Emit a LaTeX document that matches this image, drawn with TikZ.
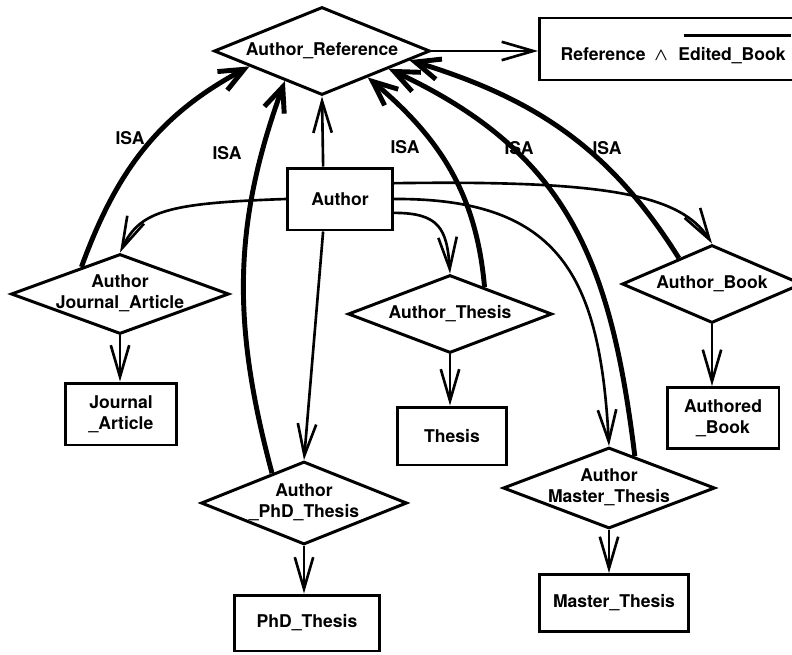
\documentclass[tikz,border=0pt]{standalone}
\usepackage{fontspec}
\setmainfont{TeX Gyre Heros}
\usetikzlibrary{shapes.geometric,arrows.meta}
% text that may run over the border of a diamond
\newcommand{\ztext}[1]{\makebox[0pt]{\begin{tabular}{@{}c@{}}#1\end{tabular}}}
% negated name, bar over it
\newcommand{\negtext}[1]{\vbox{\hrule height 1.6pt\kern 6pt\hbox{\kern-3pt\hbox{#1}\kern3pt}}}

\begin{document}
\begin{tikzpicture}[x=0.02cm, y=0.02cm, font=\bfseries,
    rel/.style={diamond, draw, line width=1.7pt, inner sep=0pt},
    ent/.style={rectangle, draw, line width=1.7pt, inner sep=0pt, align=center},
    link/.style={line width=1.5pt, -{Straight Barb[length=18pt,width=10.5pt]}},
    isa/.style={line width=2.8pt, -{Straight Barb[length=14pt,width=12pt]}}]
  \useasboundingbox (0,0) rectangle (792,654);

  % relationships
  \node[rel, minimum width=4.32cm, minimum height=1.76cm] (ar) at (322,603) {\ztext{Author\_Reference}};
  \node[rel, minimum width=4.36cm, minimum height=1.6cm] (ja) at (120,360) {\ztext{Author\\Journal\_Article}};
  \node[rel, minimum width=4.12cm, minimum height=1.66cm] (pd) at (304,151) {\ztext{Author\\\_PhD\_Thesis}};
  \node[rel, minimum width=4.08cm, minimum height=1.56cm] (td) at (450,340) {\ztext{Author\_Thesis}};
  \node[rel, minimum width=4.24cm, minimum height=1.62cm] (md) at (609,166) {\ztext{Author\\Master\_Thesis}};
  \node[rel, minimum width=3.6cm, minimum height=1.56cm] (bd) at (712,370) {\ztext{Author\_Book}};

  % entities
  \node[ent, anchor=west, minimum height=1.24cm, inner xsep=12pt] (rb) at (538,605)
    {Reference\hspace{5pt}{\boldmath$\wedge$}\hspace{9pt}\negtext{Edited\_Book}};
  \node[ent, minimum width=2.1cm, minimum height=1.24cm] (au) at (340,455) {Author};
  \node[ent, minimum width=2.24cm, minimum height=1.24cm] (jb) at (121,240) {Journal\\\_Article};
  \node[ent, minimum width=2.9cm, minimum height=1.12cm] (pb) at (307,31) {PhD\_Thesis};
  \node[ent, minimum width=2.2cm, minimum height=1.16cm] (tb) at (452,218) {Thesis};
  \node[ent, minimum width=3.0cm, minimum height=1.14cm] (mb) at (614,51) {Master\_Thesis};
  \node[ent, minimum width=2.24cm, minimum height=1.22cm] (bb) at (723,236) {Authored\\\_Book};

  % ISA labels
  \node (isa1) at (130,516) {ISA};
  \node (isa2) at (227,501) {ISA};
  \node (isa3) at (405,507) {ISA};
  \node (isa4) at (519,506) {ISA};
  \node (isa5) at (607,506) {ISA};

  % author links
  \draw[link] ([xshift=-9.6pt]au.north) -- (ar.south);
  \draw[link] ([xshift=-9.6pt]au.south) -- (pd.north);
  \draw[link] (au.west) .. controls +(-117,-4) and +(20,42) .. (ja.north);
  \draw[link] ([yshift=-7.9pt]au.east) .. controls +(45,0) and +(-3,45) .. (td.north);
  \draw[link] (au.east) .. controls +(168,1) and +(-9,167) .. (md.north);
  \draw[link] ([yshift=9pt]au.east) .. controls +(208,3) and +(-32,50) .. (bd.north);
  \draw[link] (ar.east) -- (ar.east -| rb.west);

  % down to the entities
  \draw[link] (ja.south) -- (ja.south |- jb.north);
  \draw[link] (pd.south) -- (pd.south |- pb.north);
  \draw[link] (td.south) -- (td.south |- tb.north);
  \draw[link] (md.south) -- (md.south |- mb.north);
  \draw[link] (bd.south) -- (bd.south |- bb.north);

  % ISA
  \draw[isa] (ja.145) to[out=70, in=208] (ar.192);
  \draw[isa] (pd.137) to[out=105, in=250] (ar.219);
  \draw[isa] (td.38) to[out=95, in=-40] (ar.330);
  \draw[isa] (md.51) to[out=97, in=-25, looseness=1.1] (ar.345);
  \draw[isa] (bd.142) to[out=122, in=-17] (ar.354);
\end{tikzpicture}
\end{document}
